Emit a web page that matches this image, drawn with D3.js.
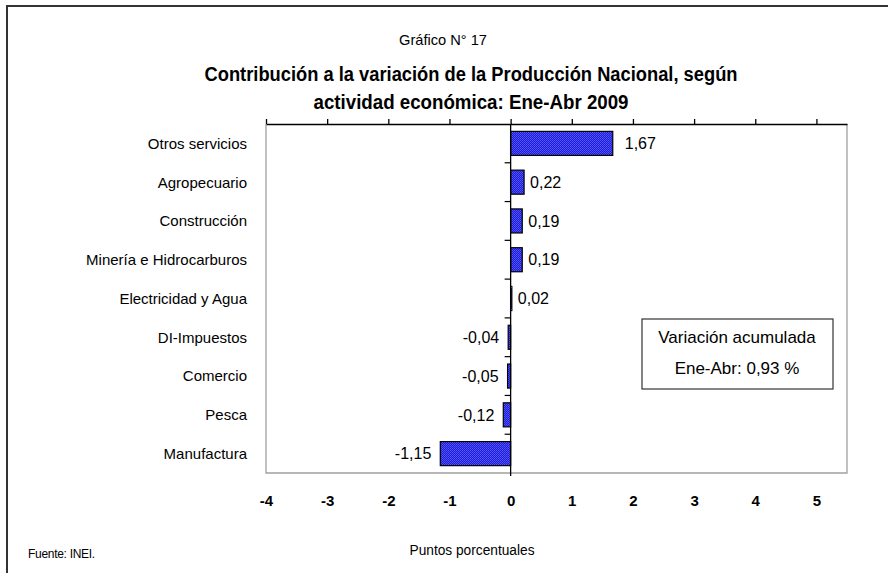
<!DOCTYPE html>
<html>
    <head>
        <meta charset="utf-8">
        <style>
            body { margin: 0; background: #fff; }
            text { font-family: "Liberation Sans", Arial, sans-serif; fill: #000; }
            .cat text { font-size: 15px; }
            .xlab text { font-size: 15px; font-weight: bold; }
        </style>
    <script src="https://d3js.org/d3.v7.min.js"></script>
    <script>
        // actividades, de arriba hacia abajo
        const categories = ["Otros servicios", "Agropecuario", "Construcción", "Minería e Hidrocarburos",
            "Electricidad y Agua", "DI-Impuestos", "Comercio", "Pesca", "Manufactura"];
        const values = [1.67, 0.22, 0.19, 0.19, 0.02, -0.04, -0.05, -0.12, -1.15];
        const valueLabels = ["1,67", "0,22", "0,19", "0,19", "0,02", "-0,04", "-0,05", "-0,12", "-1,15"];
        const xTicks = [-4, -3, -2, -1, 0, 1, 2, 3, 4, 5];
        const boxLines = ["Variación acumulada", "Ene-Abr: 0,93 %"];

        function load () {
            const width = 888, height = 573;
            const left = 266, right = 847, top = 124, bottom = 473;

            var svg = d3.select('body').append('svg')
                .attr("width", width)
                .attr("height", height);

            var defs = svg.append("defs");
            var pat = defs.append("pattern").attr("id", "dots")
                .attr("width", 2).attr("height", 2).attr("patternUnits", "userSpaceOnUse");
            pat.append("rect").attr("width", 2).attr("height", 2).attr("fill", "#1e1ed2");
            pat.append("rect").attr("width", 1).attr("height", 1).attr("fill", "#5656ff");
            pat.append("rect").attr("x", 1).attr("y", 1).attr("width", 1).attr("height", 1).attr("fill", "#4848f4");

            // marco exterior (solo arriba e izquierda)
            svg.append("path")
                .attr("d", "M7," + height + "V6H" + width)
                .attr("fill", "none").attr("stroke", "#333").attr("stroke-width", 2);

            // titulos (fuente angosta simulada con textLength)
            svg.append("text")
                .attr("x", 443).attr("y", 45)
                .attr("text-anchor", "middle").style("font-size", "15px")
                .attr("textLength", 88).attr("lengthAdjust", "spacingAndGlyphs")
                .text("Gráfico N° 17");
            svg.append("text")
                .attr("x", 471).attr("y", 81)
                .attr("text-anchor", "middle").style("font-size", "20px").style("font-weight", "bold")
                .attr("textLength", 533).attr("lengthAdjust", "spacingAndGlyphs")
                .text("Contribución a la variación de la Producción Nacional, según");
            svg.append("text")
                .attr("x", 471).attr("y", 109)
                .attr("text-anchor", "middle").style("font-size", "20px").style("font-weight", "bold")
                .attr("textLength", 315).attr("lengthAdjust", "spacingAndGlyphs")
                .text("actividad económica: Ene-Abr 2009");

            var x = d3.scaleLinear().domain([-4, 5.5]).range([left, right]);
            var y = d3.scaleBand().domain(categories).range([top, bottom])
                .paddingInner(0.38).paddingOuter(0.19);

            // borde del area de trazado
            svg.append("path")
                .attr("d", "M" + left + "," + top + "V" + bottom + "H" + right + "V" + top)
                .attr("fill", "none").attr("stroke", "#a0a0a0").attr("stroke-width", 1.3);

            // eje superior con marcas
            svg.append("g")
                .attr("transform", "translate(0," + top + ")")
                .call(d3.axisTop(x).tickValues(xTicks).tickSize(5).tickSizeOuter(0).tickFormat(""))
                .call(g => g.selectAll("line, path").attr("stroke", "#000").attr("stroke-width", 1.3));

            // etiquetas del eje x (abajo)
            svg.append("g").attr("class", "xlab")
                .attr("transform", "translate(0," + bottom + ")")
                .call(d3.axisBottom(x).tickValues(xTicks).tickSize(0).tickPadding(22)
                    .tickFormat(d => String(d)))
                .call(g => g.select(".domain").remove())
                .call(g => g.selectAll("text").attr("font-family", null).attr("font-size", null));

            // barras
            var half = y.step() * y.paddingInner() / 2;
            svg.append("g").selectAll("rect")
                .data(values)
                .enter().append("rect")
                .attr("x", d => x(Math.min(0, d)))
                .attr("y", (d, i) => y(categories[i]))
                .attr("width", d => Math.abs(x(d) - x(0)))
                .attr("height", y.bandwidth())
                .attr("fill", "url(#dots)")
                .attr("stroke", "#000").attr("stroke-width", 1.2);

            // linea cero con separadores de categoria
            var zero = svg.append("g");
            zero.append("line")
                .attr("x1", x(0)).attr("x2", x(0))
                .attr("y1", top).attr("y2", bottom + 3)
                .attr("stroke", "#000").attr("stroke-width", 1.3);
            zero.selectAll(".sep")
                .data(categories.slice(1))
                .enter().append("line")
                .attr("x1", x(0) - 6).attr("x2", x(0))
                .attr("y1", d => y(d) - half).attr("y2", d => y(d) - half)
                .attr("stroke", "#000").attr("stroke-width", 1.2);

            // etiquetas de valor
            svg.append("g").selectAll("text")
                .data(values)
                .enter().append("text")
                .attr("x", d => d >= 1 ? x(d) + 12 : d >= 0 ? x(d) + 6 : x(d) - 9)
                .attr("y", (d, i) => y(categories[i]) + y.bandwidth() / 2)
                .attr("dy", "0.36em")
                .attr("text-anchor", d => d >= 0 ? "start" : "end")
                .style("font-size", "16px")
                .text((d, i) => valueLabels[i]);

            // categorias
            svg.append("g").attr("class", "cat").selectAll("text")
                .data(categories)
                .enter().append("text")
                .attr("x", 247)
                .attr("y", d => y(d) + y.bandwidth() / 2)
                .attr("dy", "0.36em")
                .attr("text-anchor", "end")
                .text(d => d);

            // recuadro de variacion acumulada
            svg.append("rect")
                .attr("x", 642).attr("y", 319).attr("width", 191).attr("height", 70)
                .attr("fill", "#fff").attr("stroke", "#333").attr("stroke-width", 1.2);
            svg.append("g").selectAll("text")
                .data(boxLines)
                .enter().append("text")
                .attr("x", 737)
                .attr("y", (d, i) => 343 + i * 31)
                .attr("text-anchor", "middle")
                .style("font-size", "17px")
                .text(d => d);

            // pie
            svg.append("text")
                .attr("x", 472).attr("y", 555)
                .attr("text-anchor", "middle").style("font-size", "14px")
                .attr("textLength", 125).attr("lengthAdjust", "spacingAndGlyphs")
                .text("Puntos porcentuales");
            svg.append("text")
                .attr("x", 28).attr("y", 558)
                .style("font-size", "12px").style("letter-spacing", "-0.3px")
                .text("Fuente: INEI.");
        }
    </script>
    </head>
    <body onload="load()">
    </body>
</html>
